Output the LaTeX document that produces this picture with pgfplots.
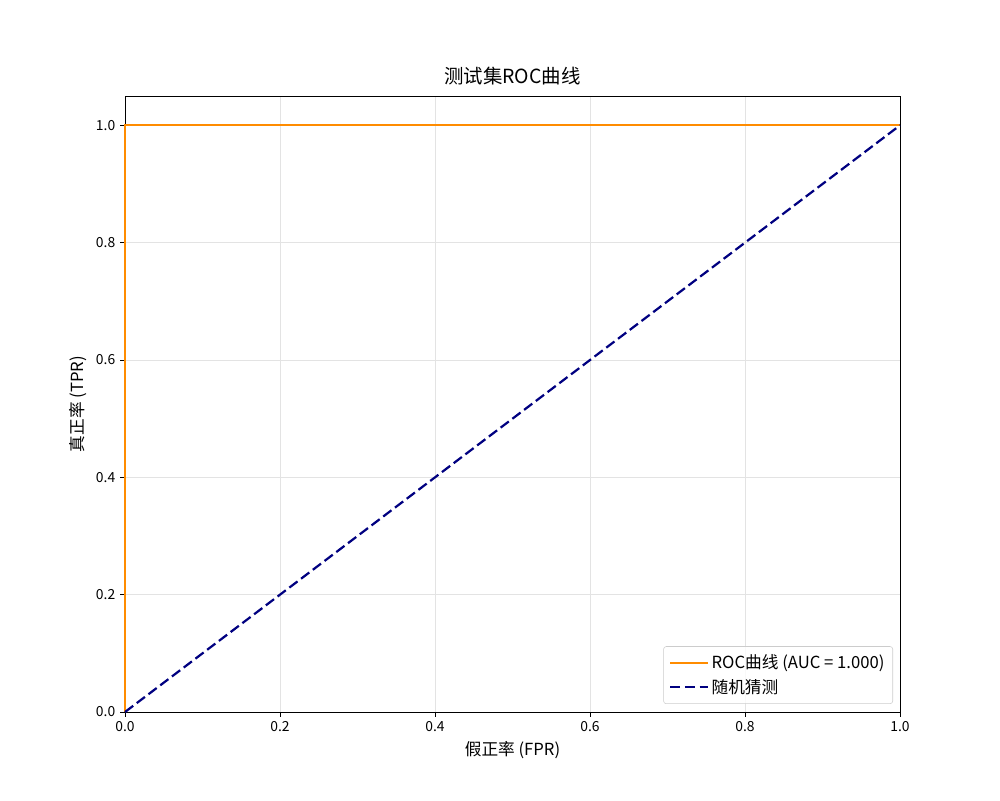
\documentclass[border=0pt]{standalone}
\usepackage{pgfplots}
\pgfplotsset{compat=1.18}
\usepackage{fontspec}
\setmainfont{Noto Sans CJK SC}
\definecolor{darkorange}{RGB}{255,140,0}
\definecolor{mpnavy}{RGB}{0,0,128}
\begin{document}
\begin{tikzpicture}
\begin{axis}[
  scale only axis,
  width=558pt, height=443.52pt,
  xmin=0, xmax=1, ymin=0, ymax=1.05,
  clip=false,
  xtick={0,0.2,0.4,0.6,0.8,1.0},
  ytick={0,0.2,0.4,0.6,0.8,1.0},
  /pgf/number format/assume math mode=true,
  xticklabel style={/pgf/number format/fixed,/pgf/number format/fixed zerofill,/pgf/number format/precision=1},
  yticklabel style={/pgf/number format/fixed,/pgf/number format/fixed zerofill,/pgf/number format/precision=1},
  tick label style={font=\fontsize{10}{12}\selectfont},
  tick align=outside, tick pos=left,
  major tick length=3.5pt,
  every tick/.style={black, line width=0.6pt},
  axis line style={line width=0.6pt},
  grid=major,
  grid style={gray!22, line width=0.6pt},
  xlabel={假正率 (FPR)}, ylabel={真正率 (TPR)},
  label style={font=\fontsize{12}{14}\selectfont},
  title={测试集ROC曲线},
  title style={font=\fontsize{14}{16}\selectfont, yshift=-2pt},
  legend style={at={(0.991,0.013)}, anchor=south east, font=\fontsize{12}{14}\selectfont,
    draw=gray!40, rounded corners=2pt, fill=white, fill opacity=0.8, text opacity=1,
    row sep=2pt, inner sep=4pt},
  legend cell align=left,
  legend image code/.code={\draw[#1] (0cm,0cm) -- (0.95cm,0cm);},
]
\addplot[color=darkorange, line width=1.6pt] coordinates {(0,0) (0,1) (1,1)};
\addlegendentry{ROC曲线 (AUC = 1.000)}
\addplot[color=mpnavy, line width=1.6pt, dash pattern=on 7.4pt off 3.2pt] coordinates {(0,0) (1,1)};
\addlegendentry{随机猜测}
\end{axis}
\path ([xshift=-90pt,yshift=-63.36pt]current axis.south west) rectangle ([xshift=72pt,yshift=69.12pt]current axis.north east);
\end{tikzpicture}
\end{document}
